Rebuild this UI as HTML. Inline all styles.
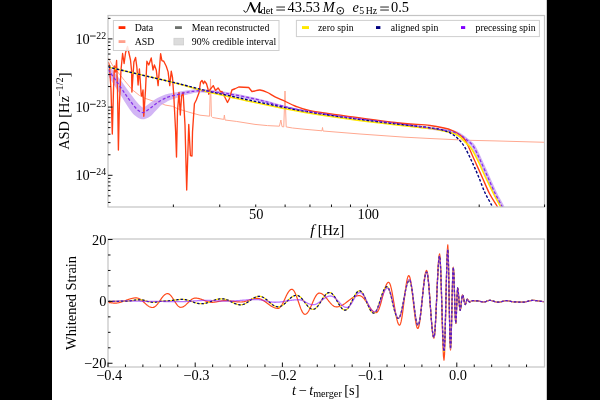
<!DOCTYPE html>
<html><head><meta charset="utf-8"><style>
html,body{margin:0;padding:0;background:#000;width:600px;height:400px;overflow:hidden}
svg{display:block;will-change:transform}
</style></head><body>
<svg width="600" height="400" viewBox="0 0 600 400"><rect x="0" y="0" width="600" height="400" fill="#fff"/>
<defs><clipPath id="cu"><rect x="108.0" y="15.5" width="436.5" height="191.5"/></clipPath><clipPath id="cl"><rect x="108.0" y="239.0" width="436.5" height="128.0"/></clipPath></defs>
<polyline clip-path="url(#cu)" points="108.3,58 113,66 118.5,73 124.5,80.5 132,89.5 139.5,95.5 145,98.3 153.75,101.3 160,102.6 165,105 172.5,106.3 177.5,108.7 190,112.5 200,115.2 209.6,116.2 210.5,79 211.4,116.3 212.5,117.5 223.75,119.4 224.4,115 225,120 236.25,121.4 255,124.4 267.5,125.6 279.4,126.2 280.9,120 282,126.6 283.75,126.9 285,91 286.2,126.9 292.5,128 305,129.3 322,130.8 322.5,127.5 323,131 360,134 405,137.2 430,138.5 469,140.3 495,140.9 545,142.3" fill="none" stroke="#ffa890" stroke-width="1.0" stroke-linejoin="round"/>
<path clip-path="url(#cu)" d="M110.84,67.46 C112.4,69.49 117.19,75.65 120.15,79.62 C123.12,83.6 126.44,88.35 128.63,91.32 C130.82,94.29 131.78,95.5 133.3,97.45 C134.82,99.39 136.38,101.42 137.76,102.97 C139.14,104.52 140.71,105.97 141.61,106.74 C142.51,107.5 142.75,107.44 143.17,107.54 C143.59,107.64 143.33,107.85 144.13,107.34 C144.93,106.83 146.55,105.54 147.99,104.47 C149.44,103.4 151.15,102.02 152.8,100.9 C154.45,99.79 156.12,98.73 157.9,97.8 C159.68,96.86 161.62,96.02 163.48,95.3 C165.34,94.58 166.83,94 169.05,93.48 C171.28,92.96 174.54,92.6 176.83,92.18 C179.12,91.76 180.65,91.34 182.8,90.96 C184.94,90.59 186.82,90.25 189.7,89.93 C192.58,89.6 194.14,88.71 200.07,89 C205.99,89.29 216.04,90.18 225.25,91.66 C234.46,93.13 246.15,95.71 255.33,97.84 C264.51,99.96 271.99,102.39 280.31,104.4 C288.62,106.42 294.4,108 305.21,109.92 C316.02,111.84 330.17,113.9 345.16,115.91 C360.15,117.93 380.99,120.16 395.16,122.01 C409.32,123.86 421.83,125.83 430.17,127.01 C438.51,128.19 441.11,128.47 445.22,129.1 C449.33,129.74 452.13,130.07 454.84,130.83 C457.56,131.59 459.28,132.36 461.49,133.67 C463.7,134.99 465.86,136.78 468.11,138.73 C470.36,140.68 472.61,141.73 475.01,145.35 C477.4,148.98 480,155.25 482.47,160.47 C484.94,165.69 487.37,171.28 489.82,176.68 C492.26,182.09 494.82,188.18 497.12,192.92 C499.43,197.65 502.02,201.72 503.66,205.11 C505.29,208.49 507.02,211.62 506.93,213.23 C506.83,214.84 504.24,215.83 503.07,214.77 C501.91,213.71 501.54,210.24 499.94,206.89 C498.34,203.54 495.77,199.45 493.48,194.68 C491.18,189.92 488.61,183.74 486.18,178.32 C483.76,172.89 481.33,167.28 478.93,162.13 C476.53,156.99 474,150.89 471.79,147.45 C469.59,144 467.7,143.29 465.69,141.47 C463.68,139.65 461.67,137.81 459.71,136.53 C457.75,135.24 456.44,134.58 453.96,133.77 C451.47,132.97 448.8,132.43 444.78,131.7 C440.76,130.97 438.15,130.61 429.83,129.39 C421.51,128.17 409.01,126.24 394.84,124.39 C380.68,122.54 359.85,120.31 344.84,118.29 C329.83,116.27 315.65,114.16 304.79,112.28 C293.93,110.4 288.05,108.92 279.69,107 C271.34,105.08 263.83,102.77 254.67,100.76 C245.51,98.75 233.87,96.3 224.75,94.94 C215.62,93.58 205.67,92.74 199.93,92.6 C194.19,92.45 192.99,93.6 190.3,94.07 C187.61,94.55 185.82,94.88 183.8,95.44 C181.78,95.99 180.31,96.71 178.17,97.42 C176.03,98.14 172.89,98.97 170.95,99.72 C169.01,100.47 167.99,101.08 166.52,101.9 C165.04,102.71 163.45,103.6 162.1,104.6 C160.75,105.6 159.66,106.68 158.4,107.9 C157.13,109.12 155.96,110.47 154.51,111.93 C153.05,113.39 151.78,115.44 149.67,116.66 C147.56,117.88 144.35,119.5 141.83,119.26 C139.32,119.03 136.61,116.9 134.59,115.26 C132.58,113.63 131.26,111.48 129.74,109.43 C128.22,107.38 126.89,105.15 125.5,102.95 C124.1,100.76 123.34,99.41 121.37,96.28 C119.39,93.15 116.35,88.3 113.65,84.18 C110.94,80.05 106.57,73.65 105.16,71.54 Z" fill="#c7a2f3" fill-opacity="0.8" stroke="none"/>
<polyline clip-path="url(#cu)" points="108.3,62 109.5,66 111,90 112.3,134 113.5,90 114.4,66 115.5,72 116.6,60.5 117.5,90 118.4,150 119.4,104 121,70 122.6,53.5 124.1,63.5 125.6,52.5 127.5,46.5 128.7,52 130.5,60 131.6,71 131.9,92 133.9,62 135.6,57.5 136.9,67.5 138.1,85 139.4,69 141.25,95 142,96 143,90 143.8,116.2 145.5,90 146.9,61.25 148.75,65 151.25,58 153,70 154.4,65 156.25,70 158.1,85.6 160.6,53.75 161.9,60.6 163.75,61.25 166.25,66.25 168.1,71.9 169.75,85.6 171.25,71.25 172.5,77.5 173.75,95 175.6,131 176.5,157 177.5,111 179,92.5 180.3,115 181.6,96 183.1,92.5 185,125 186.7,190 188.75,124.4 190.4,155.5 192,156 192.5,132 194.4,103.75 196.3,100 199,92.75 200.5,82.25 202,80.4 203.5,83.75 204.6,81.1 206.5,83.75 208,89 208.75,94.25 209.9,89.75 213.25,85.6 215.5,90.5 218.1,87.9 220.75,92 222,91.5 225.25,98 227.5,102.5 229.4,98.75 231.9,90 235,88.75 238.75,87 248.75,87.5 251.9,91.5 255,91" fill="none" stroke="#ff3d14" stroke-width="1.35" stroke-linejoin="round"/>
<path clip-path="url(#cu)" d="M255,91 C255.83,90.83 257.92,89.75 260,90 C262.08,90.25 265,91.35 267.5,92.5 C270,93.65 272.08,95.44 275,96.9 C277.92,98.36 281.67,99.73 285,101.25 C288.33,102.77 290.83,104.42 295,106 C299.17,107.58 301.67,109.07 310,110.7 C318.33,112.33 330.83,113.83 345,115.8 C359.17,117.77 380.83,120.88 395,122.5 C409.17,124.12 421.67,124.54 430,125.5 C438.33,126.46 441.46,127.48 445,128.25 C448.54,129.02 449.17,129.27 451.25,130.1 C453.33,130.93 455.42,131.89 457.5,133.25 C459.58,134.61 462.05,136.29 463.75,138.25 C465.45,140.21 465.82,141.16 467.7,145 C469.57,148.84 472.57,155.88 475,161.3 C477.43,166.72 479.87,172.08 482.3,177.5 C484.73,182.92 487.15,189.05 489.6,193.8 C492.05,198.55 495.1,202.63 497,206 C498.9,209.37 500.33,212.67 501,214" fill="none" stroke="#ff3d14" stroke-width="1.35"/>
<path clip-path="url(#cu)" d="M108,67 C111.67,67.87 122.17,70.35 130,72.2 C137.83,74.05 146.67,76.08 155,78.1 C163.33,80.12 171.67,82.1 180,84.3 C188.33,86.5 196.67,89.18 205,91.3 C213.33,93.42 221.67,95.12 230,97 C238.33,98.88 246.67,100.82 255,102.6 C263.33,104.38 271.67,106.07 280,107.7 C288.33,109.33 294.17,110.6 305,112.4 C315.83,114.2 330,116.43 345,118.5 C360,120.57 380.83,123.12 395,124.8 C409.17,126.48 421.67,127.53 430,128.6 C438.33,129.67 440.93,130.33 445,131.2 C449.07,132.07 451.8,132.77 454.4,133.8 C457,134.83 458.73,135.93 460.6,137.4 C462.47,138.87 463.87,140.83 465.6,142.6 C467.33,144.37 468.89,144.88 471,148 C473.11,151.12 475.82,156.38 478.25,161.3 C480.68,166.22 483.03,172.08 485.6,177.5 C488.18,182.92 491.27,189.05 493.7,193.8 C496.13,198.55 498.48,202.63 500.2,206 C501.92,209.37 503.37,212.67 504,214" fill="none" stroke="#ffe800" stroke-width="1.5"/>
<path clip-path="url(#cu)" d="M108,67 C111.67,67.87 122.17,70.35 130,72.2 C137.83,74.05 146.67,76.13 155,78.1 C163.33,80.07 171.67,81.95 180,84 C188.33,86.05 196.67,88.42 205,90.4 C213.33,92.38 221.67,94.07 230,95.9 C238.33,97.73 246.67,99.63 255,101.4 C263.33,103.17 271.67,104.85 280,106.5 C288.33,108.15 294.17,109.48 305,111.3 C315.83,113.12 330,115.32 345,117.4 C360,119.48 380.83,122.07 395,123.8 C409.17,125.53 421.67,126.64 430,127.8 C438.33,128.96 441.46,129.78 445,130.75 C448.54,131.72 449.17,132.35 451.25,133.6 C453.33,134.85 455.31,136.08 457.5,138.25 C459.69,140.42 462.02,142.76 464.4,146.6 C466.77,150.44 469.44,156.42 471.75,161.3 C474.06,166.18 476.08,170.75 478.25,175.9 C480.42,181.05 482.44,187.18 484.75,192.2 C487.06,197.22 490.23,202.37 492.1,206 C493.98,209.63 495.35,212.67 496,214" fill="none" stroke="#000080" stroke-width="1.4" stroke-dasharray="2.7,1.7"/>
<path clip-path="url(#cu)" d="M108,69.5 C109.48,71.57 114.07,77.88 116.9,81.9 C119.73,85.92 122.92,90.62 125,93.6 C127.08,96.58 127.94,97.8 129.4,99.8 C130.86,101.8 132.3,103.85 133.75,105.6 C135.2,107.35 136.64,109.13 138.1,110.3 C139.56,111.47 141.03,112.55 142.5,112.6 C143.97,112.65 145.44,111.47 146.9,110.6 C148.36,109.73 149.8,108.5 151.25,107.4 C152.7,106.3 154.14,105.07 155.6,104 C157.06,102.93 158.43,101.93 160,101 C161.57,100.07 163.33,99.17 165,98.4 C166.67,97.63 167.92,97.03 170,96.4 C172.08,95.77 175.28,95.17 177.5,94.6 C179.72,94.03 181.22,93.45 183.3,93 C185.38,92.55 187.22,92.27 190,91.9 C192.78,91.53 194.17,90.57 200,90.8 C205.83,91.03 215.83,91.93 225,93.3 C234.17,94.67 245.83,96.97 255,99 C264.17,101.03 271.67,103.52 280,105.5 C288.33,107.48 294.17,108.98 305,110.9 C315.83,112.82 330,114.95 345,117 C360,119.05 380.83,121.33 395,123.2 C409.17,125.07 421.67,127 430,128.2 C438.33,129.4 440.93,129.72 445,130.4 C449.07,131.08 451.8,131.52 454.4,132.3 C457,133.08 458.52,133.8 460.6,135.1 C462.68,136.4 464.77,138.22 466.9,140.1 C469.03,141.98 471.1,142.87 473.4,146.4 C475.7,149.93 478.27,156.12 480.7,161.3 C483.13,166.48 485.57,172.08 488,177.5 C490.43,182.92 493,189.05 495.3,193.8 C497.6,198.55 500.18,202.63 501.8,206 C503.42,209.37 504.47,212.67 505,214" fill="none" stroke="#7f22e8" stroke-width="1.3" stroke-dasharray="3,2" stroke-opacity="0.9"/>
<polyline clip-path="url(#cl)" points="108,302.5 108.5,302.51 109,302.53 109.5,302.57 110,302.61 110.5,302.67 111,302.73 111.5,302.8 112,302.87 112.5,302.93 113,302.99 113.5,303.03 114,303.07 114.5,303.09 115,303.1 115.51,303.09 116.01,303.07 116.52,303.03 117.02,302.98 117.53,302.92 118.04,302.84 118.54,302.75 119.05,302.65 119.55,302.53 120.06,302.41 120.57,302.27 121.07,302.12 121.58,301.96 122.08,301.8 122.59,301.63 123.1,301.45 123.6,301.27 124.11,301.08 124.61,300.89 125.12,300.69 125.62,300.5 126.13,300.31 126.64,300.11 127.14,299.92 127.65,299.73 128.15,299.55 128.66,299.37 129.17,299.2 129.67,299.04 130.18,298.88 130.68,298.73 131.19,298.59 131.7,298.47 132.2,298.35 132.71,298.25 133.21,298.16 133.72,298.08 134.23,298.02 134.73,297.97 135.24,297.93 135.74,297.91 136.25,297.9 136.76,297.92 137.27,297.99 137.77,298.11 138.28,298.27 138.79,298.47 139.3,298.71 139.8,298.99 140.31,299.31 140.82,299.65 141.33,300.03 141.84,300.44 142.34,300.86 142.85,301.31 143.36,301.76 143.87,302.23 144.38,302.7 144.88,303.17 145.39,303.64 145.9,304.09 146.41,304.54 146.91,304.96 147.42,305.37 147.93,305.75 148.44,306.09 148.95,306.41 149.45,306.69 149.96,306.93 150.47,307.13 150.98,307.29 151.48,307.41 151.99,307.48 152.5,307.5 153,307.46 153.5,307.35 154,307.16 154.5,306.9 155,306.57 155.5,306.17 156,305.71 156.5,305.2 157,304.64 157.5,304.03 158,303.38 158.5,302.7 159,301.99 159.5,301.28 160,300.55 160.5,299.82 161,299.11 161.5,298.4 162,297.72 162.5,297.08 163,296.46 163.5,295.9 164,295.39 164.5,294.93 165,294.53 165.5,294.2 166,293.94 166.5,293.75 167,293.64 167.5,293.6 168.01,293.65 168.52,293.8 169.03,294.05 169.55,294.38 170.06,294.81 170.57,295.32 171.08,295.91 171.59,296.56 172.1,297.27 172.62,298.02 173.13,298.81 173.64,299.62 174.15,300.45 174.66,301.28 175.17,302.09 175.68,302.88 176.2,303.63 176.71,304.34 177.22,304.99 177.73,305.58 178.24,306.09 178.75,306.52 179.27,306.85 179.78,307.1 180.29,307.25 180.8,307.3 181.3,307.27 181.8,307.19 182.3,307.06 182.8,306.87 183.3,306.64 183.8,306.36 184.3,306.04 184.8,305.68 185.3,305.28 185.8,304.85 186.3,304.4 186.8,303.93 187.3,303.44 187.8,302.95 188.3,302.45 188.8,301.96 189.3,301.47 189.8,301 190.3,300.55 190.8,300.12 191.3,299.72 191.8,299.36 192.3,299.04 192.8,298.76 193.3,298.53 193.8,298.34 194.3,298.21 194.8,298.13 195.3,298.1 195.81,298.11 196.31,298.14 196.82,298.19 197.32,298.25 197.83,298.33 198.34,298.43 198.84,298.55 199.35,298.68 199.85,298.82 200.36,298.98 200.87,299.15 201.37,299.33 201.88,299.51 202.38,299.7 202.89,299.9 203.4,300.1 203.9,300.3 204.41,300.5 204.92,300.7 205.42,300.89 205.93,301.07 206.43,301.25 206.94,301.42 207.45,301.58 207.95,301.72 208.46,301.85 208.96,301.97 209.47,302.07 209.98,302.15 210.48,302.21 210.99,302.26 211.49,302.29 212,302.3 212.5,302.29 213,302.28 213.5,302.24 214,302.2 214.5,302.15 215,302.09 215.5,302.01 216,301.93 216.5,301.85 217,301.75 217.5,301.65 218,301.55 218.5,301.45 219,301.35 219.5,301.25 220,301.15 220.5,301.05 221,300.97 221.5,300.89 222,300.81 222.5,300.75 223,300.7 223.5,300.66 224,300.62 224.5,300.61 225,300.6 225.5,300.6 226,300.61 226.5,300.63 227,300.65 227.5,300.68 228,300.72 228.5,300.76 229,300.81 229.5,300.86 230,300.91 230.5,300.97 231,301.03 231.5,301.1 232,301.16 232.5,301.23 233,301.3 233.5,301.37 234,301.44 234.5,301.5 235,301.57 235.5,301.63 236,301.69 236.5,301.74 237,301.79 237.5,301.84 238,301.88 238.5,301.92 239,301.95 239.5,301.97 240,301.99 240.5,302 241,302 241.51,301.99 242.01,301.96 242.52,301.92 243.03,301.85 243.53,301.77 244.04,301.67 244.55,301.55 245.05,301.42 245.56,301.28 246.06,301.13 246.57,300.96 247.08,300.79 247.58,300.61 248.09,300.43 248.6,300.24 249.1,300.06 249.61,299.87 250.12,299.69 250.62,299.51 251.13,299.34 251.64,299.17 252.14,299.02 252.65,298.88 253.15,298.75 253.66,298.63 254.17,298.53 254.67,298.45 255.18,298.38 255.69,298.34 256.19,298.31 256.7,298.3 257.21,298.31 257.71,298.36 258.22,298.43 258.73,298.52 259.24,298.65 259.74,298.8 260.25,298.98 260.76,299.18 261.26,299.4 261.77,299.65 262.28,299.92 262.79,300.2 263.29,300.51 263.8,300.83 264.31,301.16 264.81,301.51 265.32,301.86 265.83,302.23 266.34,302.6 266.84,302.97 267.35,303.35 267.86,303.73 268.36,304.1 268.87,304.47 269.38,304.84 269.89,305.19 270.39,305.54 270.9,305.88 271.41,306.19 271.91,306.5 272.42,306.78 272.93,307.05 273.44,307.3 273.94,307.52 274.45,307.72 274.96,307.9 275.46,308.05 275.97,308.18 276.48,308.27 276.99,308.34 277.49,308.39 278,308.4 278.51,308.34 279.02,308.14 279.53,307.82 280.04,307.38 280.56,306.83 281.07,306.17 281.58,305.4 282.09,304.55 282.6,303.62 283.11,302.63 283.62,301.59 284.13,300.51 284.64,299.41 285.16,298.29 285.67,297.19 286.18,296.11 286.69,295.07 287.2,294.08 287.71,293.15 288.22,292.3 288.73,291.53 289.24,290.87 289.76,290.32 290.27,289.88 290.78,289.56 291.29,289.36 291.8,289.3 292.31,289.39 292.82,289.66 293.32,290.11 293.83,290.73 294.34,291.51 294.85,292.44 295.35,293.51 295.86,294.7 296.37,295.99 296.88,297.37 297.38,298.81 297.89,300.29 298.4,301.8 298.91,303.31 299.42,304.79 299.92,306.23 300.43,307.61 300.94,308.9 301.45,310.09 301.95,311.16 302.46,312.09 302.97,312.87 303.48,313.49 303.98,313.94 304.49,314.21 305,314.3 305.51,314.23 306.02,314.03 306.53,313.71 307.04,313.25 307.55,312.68 308.06,311.99 308.57,311.2 309.09,310.31 309.6,309.34 310.11,308.3 310.62,307.2 311.13,306.06 311.64,304.89 312.15,303.7 312.66,302.51 313.17,301.34 313.68,300.2 314.19,299.1 314.7,298.06 315.21,297.09 315.73,296.2 316.24,295.41 316.75,294.72 317.26,294.15 317.77,293.69 318.28,293.37 318.79,293.17 319.3,293.1 319.81,293.13 320.31,293.22 320.82,293.36 321.32,293.57 321.83,293.82 322.34,294.13 322.84,294.49 323.35,294.9 323.85,295.35 324.36,295.84 324.86,296.37 325.37,296.92 325.88,297.51 326.38,298.11 326.89,298.73 327.39,299.36 327.9,300 328.41,300.64 328.91,301.27 329.42,301.89 329.92,302.49 330.43,303.08 330.94,303.63 331.44,304.16 331.95,304.65 332.45,305.1 332.96,305.51 333.46,305.87 333.97,306.18 334.48,306.43 334.98,306.64 335.49,306.78 335.99,306.87 336.5,306.9 337,306.89 337.51,306.85 338.01,306.78 338.52,306.68 339.02,306.56 339.53,306.41 340.03,306.24 340.54,306.04 341.04,305.82 341.54,305.58 342.05,305.31 342.55,305.03 343.06,304.73 343.56,304.41 344.07,304.07 344.57,303.73 345.08,303.37 345.58,303 346.08,302.62 346.59,302.23 347.09,301.84 347.6,301.45 348.1,301.05 348.61,300.66 349.11,300.27 349.62,299.88 350.12,299.5 350.62,299.13 351.13,298.77 351.63,298.43 352.14,298.09 352.64,297.77 353.15,297.47 353.65,297.19 354.16,296.92 354.66,296.68 355.16,296.46 355.67,296.26 356.17,296.09 356.68,295.94 357.18,295.82 357.69,295.72 358.19,295.65 358.7,295.61 359.2,295.6 359.7,295.64 360.2,295.74 360.7,295.92 361.2,296.17 361.7,296.49 362.2,296.87 362.7,297.32 363.2,297.82 363.7,298.37 364.2,298.98 364.7,299.63 365.2,300.31 365.7,301.03 366.2,301.77 366.7,302.54 367.2,303.32 367.7,304.1 368.2,304.88 368.7,305.66 369.2,306.43 369.7,307.17 370.2,307.89 370.7,308.57 371.2,309.22 371.7,309.83 372.2,310.38 372.7,310.88 373.2,311.33 373.7,311.71 374.2,312.03 374.7,312.28 375.2,312.46 375.7,312.56 376.2,312.6 376.72,312.47 377.23,312.08 377.75,311.45 378.27,310.57 378.78,309.47 379.3,308.16 379.82,306.67 380.33,305.03 380.85,303.25 381.37,301.37 381.88,299.43 382.4,297.45 382.92,295.47 383.43,293.53 383.95,291.65 384.47,289.88 384.98,288.23 385.5,286.74 386.02,285.43 386.53,284.33 387.05,283.45 387.57,282.82 388.08,282.43 388.6,282.3 389.12,282.54 389.64,283.25 390.16,284.42 390.68,286.03 391.2,288.03 391.71,290.38 392.23,293.02 392.75,295.91 393.27,298.98 393.79,302.15 394.31,305.35 394.83,308.52 395.35,311.59 395.87,314.47 396.39,317.12 396.9,319.47 397.42,321.47 397.94,323.08 398.46,324.25 398.98,324.96 399.5,325.2 400.02,324.82 400.53,323.7 401.05,321.88 401.57,319.4 402.08,316.34 402.6,312.8 403.12,308.88 403.63,304.71 404.15,300.4 404.67,296.09 405.18,291.92 405.7,288 406.22,284.46 406.73,281.4 407.25,278.92 407.77,277.1 408.28,275.98 408.8,275.6 409.3,276 409.8,277.2 410.3,279.14 410.8,281.79 411.3,285.05 411.8,288.82 412.3,293 412.8,297.46 413.3,302.05 413.8,306.64 414.3,311.1 414.8,315.27 415.3,319.05 415.8,322.31 416.3,324.96 416.8,326.9 417.3,328.1 417.8,328.5 418.32,328.01 418.84,326.54 419.35,324.16 419.87,320.93 420.39,316.98 420.91,312.43 421.42,307.44 421.94,302.18 422.46,296.82 422.98,291.56 423.49,286.57 424.01,282.02 424.53,278.07 425.05,274.84 425.56,272.46 426.08,270.99 426.6,270.5 427.12,271.35 427.64,273.85 428.16,277.89 428.69,283.24 429.21,289.66 429.73,296.82 430.25,304.35 430.77,311.88 431.29,319.04 431.81,325.46 432.34,330.81 432.86,334.85 433.38,337.35 433.9,338.2 434.42,336.49 434.94,331.51 435.45,323.65 435.97,313.56 436.49,302.05 437.01,290.05 437.53,278.54 438.05,268.45 438.56,260.59 439.08,255.61 439.6,253.9 440.15,257.95 440.7,269.47 441.25,286.71 441.8,307.05 442.35,327.39 442.9,344.63 443.45,356.15 444,360.2 444.54,354.49 445.09,338.48 445.63,315.34 446.17,289.66 446.71,266.52 447.26,250.51 447.8,244.8 448.34,254.85 448.88,281.15 449.42,313.65 449.96,339.95 450.5,350 451.06,342.1 451.62,321.43 452.18,295.87 452.74,275.2 453.3,267.3 453.8,272.66 454.3,286.68 454.8,304.02 455.3,318.04 455.8,323.4 456.4,314.55 457,296.85 457.6,288 458.12,290.13 458.64,295.7 459.16,302.6 459.68,308.17 460.2,310.3 460.77,308.06 461.35,302.65 461.93,297.24 462.5,295 463.06,295.91 463.62,298.28 464.18,301.22 464.74,303.59 465.3,304.5 465.8,303.72 466.3,301.85 466.8,299.98 467.3,299.2 467.85,299.61 468.4,300.6 468.95,301.59 469.5,302 470,301.91 470.5,301.68 471,301.35 471.5,301.03 472,300.79 472.5,300.7 473,300.71 473.5,300.72 474,300.75 474.5,300.78 475,300.82 475.5,300.85 476,300.88 476.5,300.89 477,300.9 477.52,300.92 478.03,300.96 478.55,301.04 479.06,301.14 479.58,301.25 480.09,301.38 480.61,301.52 481.12,301.65 481.64,301.76 482.15,301.86 482.67,301.94 483.18,301.98 483.7,302 484.2,301.97 484.7,301.89 485.2,301.77 485.7,301.6 486.2,301.41 486.7,301.2 487.2,300.99 487.7,300.8 488.2,300.63 488.7,300.51 489.2,300.43 489.7,300.4 490.21,300.42 490.71,300.46 491.22,300.53 491.72,300.63 492.23,300.76 492.74,300.9 493.24,301.05 493.75,301.22 494.25,301.38 494.76,301.55 495.26,301.7 495.77,301.84 496.28,301.97 496.78,302.07 497.29,302.14 497.79,302.18 498.3,302.2 498.8,302.19 499.3,302.14 499.8,302.07 500.3,301.98 500.8,301.87 501.3,301.74 501.8,301.6 502.3,301.45 502.8,301.3 503.3,301.16 503.8,301.03 504.3,300.92 504.8,300.83 505.3,300.76 505.8,300.71 506.3,300.7 506.81,300.71 507.33,300.75 507.84,300.81 508.35,300.88 508.87,300.97 509.38,301.08 509.89,301.19 510.41,301.31 510.92,301.42 511.43,301.52 511.95,301.62 512.46,301.69 512.97,301.75 513.49,301.79 514,301.8 514.52,301.8 515.04,301.82 515.56,301.83 516.08,301.86 516.59,301.89 517.11,301.92 517.63,301.96 518.15,302 518.67,302.04 519.19,302.08 519.71,302.11 520.22,302.14 520.74,302.17 521.26,302.18 521.78,302.2 522.3,302.2 522.81,302.19 523.32,302.16 523.83,302.11 524.34,302.04 524.85,301.96 525.36,301.86 525.87,301.75 526.38,301.63 526.89,301.5 527.4,301.37 527.9,301.23 528.41,301.1 528.92,300.97 529.43,300.85 529.94,300.74 530.45,300.64 530.96,300.56 531.47,300.49 531.98,300.44 532.49,300.41 533,300.4 533.5,300.41 534,300.42 534.5,300.45 535,300.49 535.5,300.53 536,300.59 536.5,300.65 537,300.72 537.5,300.8 538,300.88 538.5,300.96 539,301.04 539.5,301.12 540,301.2 540.5,301.28 541,301.35 541.5,301.41 542,301.47 542.5,301.51 543,301.55 543.5,301.58 544,301.59 544.5,301.6" fill="none" stroke="#ff4a1c" stroke-width="1.2" stroke-linejoin="round"/>
<polyline clip-path="url(#cl)" points="108,301.4 108.5,301.4 109,301.4 109.5,301.4 110,301.39 110.5,301.39 111,301.39 111.5,301.38 112,301.37 112.5,301.37 113,301.36 113.5,301.35 114,301.34 114.5,301.34 115,301.33 115.5,301.32 116,301.31 116.5,301.3 117,301.29 117.5,301.28 118,301.27 118.5,301.26 119,301.26 119.5,301.25 120,301.24 120.5,301.23 121,301.23 121.5,301.22 122,301.21 122.5,301.21 123,301.21 123.5,301.2 124,301.2 124.5,301.2 125,301.2 125.5,301.2 126,301.18 126.5,301.16 127,301.14 127.5,301.1 128,301.06 128.5,301.01 129,300.96 129.5,300.9 130,300.84 130.5,300.77 131,300.7 131.5,300.63 132,300.55 132.5,300.48 133,300.4 133.5,300.32 134,300.25 134.5,300.18 135,300.11 135.5,300.05 136,299.99 136.5,299.94 137,299.89 137.5,299.85 138,299.81 138.5,299.79 139,299.77 139.5,299.75 140,299.75 140.5,299.76 141,299.79 141.5,299.84 142,299.9 142.5,299.99 143,300.09 143.5,300.2 144,300.33 144.5,300.47 145,300.61 145.5,300.77 146,300.92 146.5,301.08 147,301.23 147.5,301.39 148,301.53 148.5,301.67 149,301.8 149.5,301.91 150,302.01 150.5,302.1 151,302.16 151.5,302.21 152,302.24 152.5,302.25 153,302.25 153.5,302.23 154,302.21 154.5,302.17 155,302.13 155.5,302.08 156,302.02 156.5,301.96 157,301.89 157.5,301.82 158,301.74 158.5,301.66 159,301.59 159.5,301.51 160,301.43 160.5,301.36 161,301.29 161.5,301.23 162,301.17 162.5,301.12 163,301.08 163.5,301.04 164,301.02 164.5,301 165,301 165.5,301 166,300.99 166.5,300.97 167,300.95 167.5,300.92 168,300.89 168.5,300.85 169,300.8 169.5,300.75 170,300.7 170.5,300.64 171,300.58 171.5,300.51 172,300.45 172.5,300.38 173,300.31 173.5,300.24 174,300.16 174.5,300.09 175,300.02 175.5,299.95 176,299.89 176.5,299.82 177,299.76 177.5,299.7 178,299.65 178.5,299.6 179,299.55 179.5,299.51 180,299.48 180.5,299.45 181,299.43 181.5,299.41 182,299.4 182.5,299.4 183.01,299.41 183.51,299.43 184.02,299.47 184.53,299.52 185.03,299.59 185.54,299.68 186.05,299.77 186.55,299.88 187.06,300 187.57,300.14 188.07,300.28 188.58,300.43 189.09,300.6 189.59,300.76 190.1,300.94 190.61,301.12 191.11,301.3 191.62,301.48 192.13,301.67 192.64,301.85 193.14,302.03 193.65,302.21 194.16,302.39 194.66,302.55 195.17,302.72 195.68,302.87 196.18,303.01 196.69,303.15 197.2,303.27 197.7,303.38 198.21,303.47 198.72,303.56 199.22,303.63 199.73,303.68 200.24,303.72 200.74,303.74 201.25,303.75 201.75,303.74 202.25,303.72 202.75,303.68 203.25,303.63 203.76,303.57 204.26,303.49 204.76,303.4 205.26,303.29 205.76,303.18 206.26,303.05 206.76,302.91 207.26,302.77 207.77,302.61 208.27,302.44 208.77,302.27 209.27,302.1 209.77,301.91 210.27,301.73 210.77,301.54 211.27,301.35 211.78,301.15 212.28,300.96 212.78,300.77 213.28,300.59 213.78,300.4 214.28,300.23 214.78,300.06 215.28,299.89 215.79,299.73 216.29,299.59 216.79,299.45 217.29,299.32 217.79,299.21 218.29,299.1 218.79,299.01 219.29,298.93 219.8,298.87 220.3,298.82 220.8,298.78 221.3,298.76 221.8,298.75 222.31,298.76 222.82,298.79 223.32,298.85 223.83,298.92 224.34,299.02 224.85,299.13 225.36,299.27 225.86,299.42 226.37,299.59 226.88,299.78 227.39,299.98 227.9,300.19 228.41,300.41 228.91,300.65 229.42,300.89 229.93,301.14 230.44,301.39 230.95,301.65 231.45,301.9 231.96,302.16 232.47,302.41 232.98,302.66 233.49,302.9 233.99,303.14 234.5,303.36 235.01,303.57 235.52,303.77 236.03,303.96 236.54,304.13 237.04,304.28 237.55,304.42 238.06,304.53 238.57,304.63 239.08,304.7 239.58,304.76 240.09,304.79 240.6,304.8 241.11,304.78 241.61,304.74 242.12,304.66 242.62,304.56 243.13,304.42 243.63,304.26 244.14,304.07 244.64,303.86 245.15,303.62 245.65,303.36 246.16,303.08 246.66,302.78 247.17,302.46 247.68,302.13 248.18,301.79 248.69,301.45 249.19,301.09 249.7,300.73 250.2,300.37 250.71,300.01 251.21,299.65 251.72,299.31 252.22,298.97 252.73,298.64 253.24,298.32 253.74,298.02 254.25,297.74 254.75,297.48 255.26,297.24 255.76,297.03 256.27,296.84 256.77,296.68 257.28,296.54 257.78,296.44 258.29,296.36 258.79,296.32 259.3,296.3 259.81,296.32 260.32,296.38 260.83,296.47 261.34,296.6 261.85,296.77 262.36,296.97 262.88,297.2 263.39,297.47 263.9,297.76 264.41,298.08 264.92,298.43 265.43,298.8 265.94,299.19 266.45,299.59 266.96,300.01 267.47,300.44 267.98,300.88 268.49,301.33 269.01,301.77 269.52,302.22 270.03,302.66 270.54,303.09 271.05,303.51 271.56,303.91 272.07,304.3 272.58,304.67 273.09,305.02 273.6,305.34 274.11,305.63 274.62,305.9 275.14,306.13 275.65,306.33 276.16,306.5 276.67,306.63 277.18,306.72 277.69,306.78 278.2,306.8 278.71,306.78 279.22,306.71 279.72,306.6 280.23,306.45 280.74,306.26 281.25,306.03 281.76,305.76 282.27,305.45 282.77,305.12 283.28,304.75 283.79,304.35 284.3,303.93 284.81,303.48 285.32,303.02 285.82,302.54 286.33,302.05 286.84,301.55 287.35,301.05 287.86,300.55 288.37,300.05 288.88,299.56 289.38,299.08 289.89,298.62 290.4,298.18 290.91,297.75 291.42,297.35 291.93,296.98 292.43,296.65 292.94,296.34 293.45,296.07 293.96,295.84 294.47,295.65 294.98,295.5 295.48,295.39 295.99,295.32 296.5,295.3 297,295.33 297.5,295.43 298,295.58 298.5,295.8 299,296.08 299.5,296.41 300,296.8 300.5,297.23 301,297.72 301.5,298.24 302,298.8 302.5,299.39 303,300.01 303.5,300.65 304,301.3 304.5,301.97 305,302.63 305.5,303.3 306,303.95 306.5,304.59 307,305.21 307.5,305.8 308,306.36 308.5,306.88 309,307.37 309.5,307.8 310,308.19 310.5,308.52 311,308.8 311.5,309.02 312,309.17 312.5,309.27 313,309.3 313.5,309.26 314,309.15 314.5,308.96 315,308.7 315.5,308.37 316,307.97 316.5,307.5 317,306.98 317.5,306.4 318,305.77 318.5,305.1 319,304.39 319.5,303.65 320,302.88 320.5,302.1 321,301.3 321.5,300.5 322,299.7 322.5,298.92 323,298.15 323.5,297.41 324,296.7 324.5,296.03 325,295.4 325.5,294.82 326,294.3 326.5,293.83 327,293.43 327.5,293.1 328,292.84 328.5,292.65 329,292.54 329.5,292.5 330,292.55 330.5,292.68 331,292.9 331.5,293.21 332,293.61 332.5,294.08 333,294.62 333.5,295.24 334,295.91 334.5,296.65 335,297.42 335.5,298.24 336,299.09 336.5,299.97 337,300.85 337.5,301.75 338,302.63 338.5,303.51 339,304.36 339.5,305.18 340,305.95 340.5,306.69 341,307.36 341.5,307.98 342,308.52 342.5,308.99 343,309.39 343.5,309.7 344,309.92 344.5,310.05 345,310.1 345.5,310.04 346.01,309.87 346.51,309.59 347.01,309.21 347.52,308.72 348.02,308.13 348.52,307.46 349.03,306.7 349.53,305.87 350.03,304.97 350.54,304.02 351.04,303.03 351.54,302.01 352.05,300.97 352.55,299.93 353.06,298.89 353.56,297.87 354.06,296.88 354.57,295.93 355.07,295.03 355.57,294.2 356.08,293.44 356.58,292.77 357.08,292.18 357.59,291.69 358.09,291.31 358.59,291.03 359.1,290.86 359.6,290.8 360.11,290.87 360.61,291.08 361.12,291.43 361.63,291.9 362.14,292.51 362.64,293.23 363.15,294.07 363.66,295 364.16,296.02 364.67,297.11 365.18,298.27 365.69,299.47 366.19,300.7 366.7,301.95 367.21,303.2 367.71,304.43 368.22,305.63 368.73,306.79 369.24,307.88 369.74,308.9 370.25,309.83 370.76,310.67 371.26,311.39 371.77,312 372.28,312.47 372.79,312.82 373.29,313.03 373.8,313.1 374.3,313 374.81,312.72 375.31,312.24 375.82,311.59 376.32,310.76 376.82,309.78 377.33,308.65 377.83,307.4 378.33,306.03 378.84,304.58 379.34,303.06 379.85,301.49 380.35,299.9 380.85,298.31 381.36,296.74 381.86,295.22 382.37,293.77 382.87,292.4 383.37,291.15 383.88,290.02 384.38,289.04 384.88,288.21 385.39,287.56 385.89,287.08 386.4,286.8 386.9,286.7 387.42,286.86 387.94,287.34 388.45,288.13 388.97,289.22 389.49,290.57 390.01,292.17 390.53,293.98 391.05,295.97 391.56,298.08 392.08,300.29 392.6,302.55 393.12,304.81 393.64,307.02 394.15,309.13 394.67,311.12 395.19,312.93 395.71,314.53 396.23,315.88 396.75,316.97 397.26,317.76 397.78,318.24 398.3,318.4 398.8,318.21 399.31,317.63 399.81,316.67 400.32,315.37 400.82,313.73 401.33,311.81 401.83,309.63 402.34,307.23 402.84,304.68 403.35,302.02 403.85,299.3 404.35,296.58 404.86,293.92 405.36,291.37 405.87,288.97 406.37,286.79 406.88,284.87 407.38,283.23 407.89,281.93 408.39,280.97 408.9,280.39 409.4,280.2 409.91,280.58 410.41,281.72 410.92,283.57 411.42,286.07 411.93,289.14 412.44,292.67 412.94,296.54 413.45,300.62 413.95,304.78 414.46,308.86 414.96,312.73 415.47,316.26 415.98,319.33 416.48,321.83 416.99,323.68 417.49,324.82 418,325.2 418.51,324.75 419.01,323.41 419.52,321.22 420.02,318.27 420.53,314.65 421.04,310.48 421.54,305.92 422.05,301.1 422.55,296.2 423.06,291.38 423.56,286.82 424.07,282.65 424.58,279.03 425.08,276.08 425.59,273.89 426.09,272.55 426.6,272.1 427.12,272.92 427.64,275.33 428.16,279.22 428.69,284.39 429.21,290.58 429.73,297.48 430.25,304.75 430.77,312.02 431.29,318.92 431.81,325.11 432.34,330.28 432.86,334.17 433.38,336.58 433.9,337.4 434.42,335.75 434.94,330.93 435.45,323.34 435.97,313.58 436.49,302.45 437.01,290.85 437.53,279.72 438.05,269.96 438.56,262.37 439.08,257.55 439.6,255.9 440.15,259.54 440.7,269.9 441.25,285.41 441.8,303.7 442.35,321.99 442.9,337.5 443.45,347.86 444,351.5 444.54,346.44 445.09,332.28 445.63,311.81 446.17,289.09 446.71,268.62 447.26,254.46 447.8,249.4 448.34,258.89 448.88,283.74 449.42,314.46 449.96,339.31 450.5,348.8 451.06,341.02 451.62,320.64 452.18,295.46 452.74,275.08 453.3,267.3 453.8,272.66 454.3,286.68 454.8,304.02 455.3,318.04 455.8,323.4 456.4,314.55 457,296.85 457.6,288 458.12,290.13 458.64,295.7 459.16,302.6 459.68,308.17 460.2,310.3 460.77,308.06 461.35,302.65 461.93,297.24 462.5,295 463.06,295.91 463.62,298.28 464.18,301.22 464.74,303.59 465.3,304.5 465.8,303.72 466.3,301.85 466.8,299.98 467.3,299.2 467.85,299.61 468.4,300.6 468.95,301.59 469.5,302 470,301.91 470.5,301.68 471,301.35 471.5,301.03 472,300.79 472.5,300.7 473,300.71 473.5,300.72 474,300.75 474.5,300.78 475,300.82 475.5,300.85 476,300.88 476.5,300.89 477,300.9 477.52,300.92 478.03,300.96 478.55,301.04 479.06,301.14 479.58,301.25 480.09,301.38 480.61,301.52 481.12,301.65 481.64,301.76 482.15,301.86 482.67,301.94 483.18,301.98 483.7,302 484.2,301.97 484.7,301.89 485.2,301.77 485.7,301.6 486.2,301.41 486.7,301.2 487.2,300.99 487.7,300.8 488.2,300.63 488.7,300.51 489.2,300.43 489.7,300.4 490.21,300.42 490.71,300.46 491.22,300.53 491.72,300.63 492.23,300.76 492.74,300.9 493.24,301.05 493.75,301.22 494.25,301.38 494.76,301.55 495.26,301.7 495.77,301.84 496.28,301.97 496.78,302.07 497.29,302.14 497.79,302.18 498.3,302.2 498.8,302.19 499.3,302.14 499.8,302.07 500.3,301.98 500.8,301.87 501.3,301.74 501.8,301.6 502.3,301.45 502.8,301.3 503.3,301.16 503.8,301.03 504.3,300.92 504.8,300.83 505.3,300.76 505.8,300.71 506.3,300.7 506.81,300.71 507.33,300.75 507.84,300.81 508.35,300.88 508.87,300.97 509.38,301.08 509.89,301.19 510.41,301.31 510.92,301.42 511.43,301.52 511.95,301.62 512.46,301.69 512.97,301.75 513.49,301.79 514,301.8 514.52,301.8 515.04,301.82 515.56,301.83 516.08,301.86 516.59,301.89 517.11,301.92 517.63,301.96 518.15,302 518.67,302.04 519.19,302.08 519.71,302.11 520.22,302.14 520.74,302.17 521.26,302.18 521.78,302.2 522.3,302.2 522.81,302.19 523.32,302.16 523.83,302.11 524.34,302.04 524.85,301.96 525.36,301.86 525.87,301.75 526.38,301.63 526.89,301.5 527.4,301.37 527.9,301.23 528.41,301.1 528.92,300.97 529.43,300.85 529.94,300.74 530.45,300.64 530.96,300.56 531.47,300.49 531.98,300.44 532.49,300.41 533,300.4 533.5,300.41 534,300.42 534.5,300.45 535,300.49 535.5,300.53 536,300.59 536.5,300.65 537,300.72 537.5,300.8 538,300.88 538.5,300.96 539,301.04 539.5,301.12 540,301.2 540.5,301.28 541,301.35 541.5,301.41 542,301.47 542.5,301.51 543,301.55 543.5,301.58 544,301.59 544.5,301.6" fill="none" stroke="#ffe800" stroke-width="1.25" stroke-linejoin="round"/>
<polyline clip-path="url(#cl)" points="108,301.4 108.5,301.4 109,301.4 109.5,301.4 110,301.39 110.5,301.39 111,301.39 111.5,301.38 112,301.37 112.5,301.37 113,301.36 113.5,301.35 114,301.34 114.5,301.34 115,301.33 115.5,301.32 116,301.31 116.5,301.3 117,301.29 117.5,301.28 118,301.27 118.5,301.26 119,301.26 119.5,301.25 120,301.24 120.5,301.23 121,301.23 121.5,301.22 122,301.21 122.5,301.21 123,301.21 123.5,301.2 124,301.2 124.5,301.2 125,301.2 125.5,301.2 126,301.18 126.5,301.16 127,301.14 127.5,301.1 128,301.06 128.5,301.01 129,300.96 129.5,300.9 130,300.84 130.5,300.77 131,300.7 131.5,300.63 132,300.55 132.5,300.48 133,300.4 133.5,300.32 134,300.25 134.5,300.18 135,300.11 135.5,300.05 136,299.99 136.5,299.94 137,299.89 137.5,299.85 138,299.81 138.5,299.79 139,299.77 139.5,299.75 140,299.75 140.5,299.76 141,299.79 141.5,299.84 142,299.9 142.5,299.99 143,300.09 143.5,300.2 144,300.33 144.5,300.47 145,300.61 145.5,300.77 146,300.92 146.5,301.08 147,301.23 147.5,301.39 148,301.53 148.5,301.67 149,301.8 149.5,301.91 150,302.01 150.5,302.1 151,302.16 151.5,302.21 152,302.24 152.5,302.25 153,302.25 153.5,302.23 154,302.21 154.5,302.17 155,302.13 155.5,302.08 156,302.02 156.5,301.96 157,301.89 157.5,301.82 158,301.74 158.5,301.66 159,301.59 159.5,301.51 160,301.43 160.5,301.36 161,301.29 161.5,301.23 162,301.17 162.5,301.12 163,301.08 163.5,301.04 164,301.02 164.5,301 165,301 165.5,301 166,300.99 166.5,300.97 167,300.95 167.5,300.92 168,300.89 168.5,300.85 169,300.8 169.5,300.75 170,300.7 170.5,300.64 171,300.58 171.5,300.51 172,300.45 172.5,300.38 173,300.31 173.5,300.24 174,300.16 174.5,300.09 175,300.02 175.5,299.95 176,299.89 176.5,299.82 177,299.76 177.5,299.7 178,299.65 178.5,299.6 179,299.55 179.5,299.51 180,299.48 180.5,299.45 181,299.43 181.5,299.41 182,299.4 182.5,299.4 183.01,299.41 183.51,299.43 184.02,299.47 184.53,299.52 185.03,299.59 185.54,299.68 186.05,299.77 186.55,299.88 187.06,300 187.57,300.14 188.07,300.28 188.58,300.43 189.09,300.6 189.59,300.76 190.1,300.94 190.61,301.12 191.11,301.3 191.62,301.48 192.13,301.67 192.64,301.85 193.14,302.03 193.65,302.21 194.16,302.39 194.66,302.55 195.17,302.72 195.68,302.87 196.18,303.01 196.69,303.15 197.2,303.27 197.7,303.38 198.21,303.47 198.72,303.56 199.22,303.63 199.73,303.68 200.24,303.72 200.74,303.74 201.25,303.75 201.75,303.74 202.25,303.72 202.75,303.68 203.25,303.63 203.76,303.57 204.26,303.49 204.76,303.4 205.26,303.29 205.76,303.18 206.26,303.05 206.76,302.91 207.26,302.77 207.77,302.61 208.27,302.44 208.77,302.27 209.27,302.1 209.77,301.91 210.27,301.73 210.77,301.54 211.27,301.35 211.78,301.15 212.28,300.96 212.78,300.77 213.28,300.59 213.78,300.4 214.28,300.23 214.78,300.06 215.28,299.89 215.79,299.73 216.29,299.59 216.79,299.45 217.29,299.32 217.79,299.21 218.29,299.1 218.79,299.01 219.29,298.93 219.8,298.87 220.3,298.82 220.8,298.78 221.3,298.76 221.8,298.75 222.31,298.76 222.82,298.79 223.32,298.85 223.83,298.92 224.34,299.02 224.85,299.13 225.36,299.27 225.86,299.42 226.37,299.59 226.88,299.78 227.39,299.98 227.9,300.19 228.41,300.41 228.91,300.65 229.42,300.89 229.93,301.14 230.44,301.39 230.95,301.65 231.45,301.9 231.96,302.16 232.47,302.41 232.98,302.66 233.49,302.9 233.99,303.14 234.5,303.36 235.01,303.57 235.52,303.77 236.03,303.96 236.54,304.13 237.04,304.28 237.55,304.42 238.06,304.53 238.57,304.63 239.08,304.7 239.58,304.76 240.09,304.79 240.6,304.8 241.11,304.78 241.61,304.74 242.12,304.66 242.62,304.56 243.13,304.42 243.63,304.26 244.14,304.07 244.64,303.86 245.15,303.62 245.65,303.36 246.16,303.08 246.66,302.78 247.17,302.46 247.68,302.13 248.18,301.79 248.69,301.45 249.19,301.09 249.7,300.73 250.2,300.37 250.71,300.01 251.21,299.65 251.72,299.31 252.22,298.97 252.73,298.64 253.24,298.32 253.74,298.02 254.25,297.74 254.75,297.48 255.26,297.24 255.76,297.03 256.27,296.84 256.77,296.68 257.28,296.54 257.78,296.44 258.29,296.36 258.79,296.32 259.3,296.3 259.81,296.32 260.32,296.38 260.83,296.47 261.34,296.6 261.85,296.77 262.36,296.97 262.88,297.2 263.39,297.47 263.9,297.76 264.41,298.08 264.92,298.43 265.43,298.8 265.94,299.19 266.45,299.59 266.96,300.01 267.47,300.44 267.98,300.88 268.49,301.33 269.01,301.77 269.52,302.22 270.03,302.66 270.54,303.09 271.05,303.51 271.56,303.91 272.07,304.3 272.58,304.67 273.09,305.02 273.6,305.34 274.11,305.63 274.62,305.9 275.14,306.13 275.65,306.33 276.16,306.5 276.67,306.63 277.18,306.72 277.69,306.78 278.2,306.8 278.71,306.78 279.22,306.71 279.72,306.6 280.23,306.45 280.74,306.26 281.25,306.03 281.76,305.76 282.27,305.45 282.77,305.12 283.28,304.75 283.79,304.35 284.3,303.93 284.81,303.48 285.32,303.02 285.82,302.54 286.33,302.05 286.84,301.55 287.35,301.05 287.86,300.55 288.37,300.05 288.88,299.56 289.38,299.08 289.89,298.62 290.4,298.18 290.91,297.75 291.42,297.35 291.93,296.98 292.43,296.65 292.94,296.34 293.45,296.07 293.96,295.84 294.47,295.65 294.98,295.5 295.48,295.39 295.99,295.32 296.5,295.3 297,295.33 297.5,295.43 298,295.58 298.5,295.8 299,296.08 299.5,296.41 300,296.8 300.5,297.23 301,297.72 301.5,298.24 302,298.8 302.5,299.39 303,300.01 303.5,300.65 304,301.3 304.5,301.97 305,302.63 305.5,303.3 306,303.95 306.5,304.59 307,305.21 307.5,305.8 308,306.36 308.5,306.88 309,307.37 309.5,307.8 310,308.19 310.5,308.52 311,308.8 311.5,309.02 312,309.17 312.5,309.27 313,309.3 313.5,309.26 314,309.15 314.5,308.96 315,308.7 315.5,308.37 316,307.97 316.5,307.5 317,306.98 317.5,306.4 318,305.77 318.5,305.1 319,304.39 319.5,303.65 320,302.88 320.5,302.1 321,301.3 321.5,300.5 322,299.7 322.5,298.92 323,298.15 323.5,297.41 324,296.7 324.5,296.03 325,295.4 325.5,294.82 326,294.3 326.5,293.83 327,293.43 327.5,293.1 328,292.84 328.5,292.65 329,292.54 329.5,292.5 330,292.55 330.5,292.68 331,292.9 331.5,293.21 332,293.61 332.5,294.08 333,294.62 333.5,295.24 334,295.91 334.5,296.65 335,297.42 335.5,298.24 336,299.09 336.5,299.97 337,300.85 337.5,301.75 338,302.63 338.5,303.51 339,304.36 339.5,305.18 340,305.95 340.5,306.69 341,307.36 341.5,307.98 342,308.52 342.5,308.99 343,309.39 343.5,309.7 344,309.92 344.5,310.05 345,310.1 345.5,310.04 346.01,309.87 346.51,309.59 347.01,309.21 347.52,308.72 348.02,308.13 348.52,307.46 349.03,306.7 349.53,305.87 350.03,304.97 350.54,304.02 351.04,303.03 351.54,302.01 352.05,300.97 352.55,299.93 353.06,298.89 353.56,297.87 354.06,296.88 354.57,295.93 355.07,295.03 355.57,294.2 356.08,293.44 356.58,292.77 357.08,292.18 357.59,291.69 358.09,291.31 358.59,291.03 359.1,290.86 359.6,290.8 360.11,290.87 360.61,291.08 361.12,291.43 361.63,291.9 362.14,292.51 362.64,293.23 363.15,294.07 363.66,295 364.16,296.02 364.67,297.11 365.18,298.27 365.69,299.47 366.19,300.7 366.7,301.95 367.21,303.2 367.71,304.43 368.22,305.63 368.73,306.79 369.24,307.88 369.74,308.9 370.25,309.83 370.76,310.67 371.26,311.39 371.77,312 372.28,312.47 372.79,312.82 373.29,313.03 373.8,313.1 374.3,313 374.81,312.72 375.31,312.24 375.82,311.59 376.32,310.76 376.82,309.78 377.33,308.65 377.83,307.4 378.33,306.03 378.84,304.58 379.34,303.06 379.85,301.49 380.35,299.9 380.85,298.31 381.36,296.74 381.86,295.22 382.37,293.77 382.87,292.4 383.37,291.15 383.88,290.02 384.38,289.04 384.88,288.21 385.39,287.56 385.89,287.08 386.4,286.8 386.9,286.7 387.42,286.86 387.94,287.34 388.45,288.13 388.97,289.22 389.49,290.57 390.01,292.17 390.53,293.98 391.05,295.97 391.56,298.08 392.08,300.29 392.6,302.55 393.12,304.81 393.64,307.02 394.15,309.13 394.67,311.12 395.19,312.93 395.71,314.53 396.23,315.88 396.75,316.97 397.26,317.76 397.78,318.24 398.3,318.4 398.8,318.21 399.31,317.63 399.81,316.67 400.32,315.37 400.82,313.73 401.33,311.81 401.83,309.63 402.34,307.23 402.84,304.68 403.35,302.02 403.85,299.3 404.35,296.58 404.86,293.92 405.36,291.37 405.87,288.97 406.37,286.79 406.88,284.87 407.38,283.23 407.89,281.93 408.39,280.97 408.9,280.39 409.4,280.2 409.91,280.58 410.41,281.72 410.92,283.57 411.42,286.07 411.93,289.14 412.44,292.67 412.94,296.54 413.45,300.62 413.95,304.78 414.46,308.86 414.96,312.73 415.47,316.26 415.98,319.33 416.48,321.83 416.99,323.68 417.49,324.82 418,325.2 418.51,324.75 419.01,323.41 419.52,321.22 420.02,318.27 420.53,314.65 421.04,310.48 421.54,305.92 422.05,301.1 422.55,296.2 423.06,291.38 423.56,286.82 424.07,282.65 424.58,279.03 425.08,276.08 425.59,273.89 426.09,272.55 426.6,272.1 427.12,272.92 427.64,275.33 428.16,279.22 428.69,284.39 429.21,290.58 429.73,297.48 430.25,304.75 430.77,312.02 431.29,318.92 431.81,325.11 432.34,330.28 432.86,334.17 433.38,336.58 433.9,337.4 434.42,335.75 434.94,330.93 435.45,323.34 435.97,313.58 436.49,302.45 437.01,290.85 437.53,279.72 438.05,269.96 438.56,262.37 439.08,257.55 439.6,255.9 440.15,259.54 440.7,269.9 441.25,285.41 441.8,303.7 442.35,321.99 442.9,337.5 443.45,347.86 444,351.5 444.54,346.44 445.09,332.28 445.63,311.81 446.17,289.09 446.71,268.62 447.26,254.46 447.8,249.4 448.34,258.89 448.88,283.74 449.42,314.46 449.96,339.31 450.5,348.8 451.06,341.02 451.62,320.64 452.18,295.46 452.74,275.08 453.3,267.3 453.8,272.66 454.3,286.68 454.8,304.02 455.3,318.04 455.8,323.4 456.4,314.55 457,296.85 457.6,288 458.12,290.13 458.64,295.7 459.16,302.6 459.68,308.17 460.2,310.3 460.77,308.06 461.35,302.65 461.93,297.24 462.5,295 463.06,295.91 463.62,298.28 464.18,301.22 464.74,303.59 465.3,304.5 465.8,303.72 466.3,301.85 466.8,299.98 467.3,299.2 467.85,299.61 468.4,300.6 468.95,301.59 469.5,302 470,301.91 470.5,301.68 471,301.35 471.5,301.03 472,300.79 472.5,300.7 473,300.71 473.5,300.72 474,300.75 474.5,300.78 475,300.82 475.5,300.85 476,300.88 476.5,300.89 477,300.9 477.52,300.92 478.03,300.96 478.55,301.04 479.06,301.14 479.58,301.25 480.09,301.38 480.61,301.52 481.12,301.65 481.64,301.76 482.15,301.86 482.67,301.94 483.18,301.98 483.7,302 484.2,301.97 484.7,301.89 485.2,301.77 485.7,301.6 486.2,301.41 486.7,301.2 487.2,300.99 487.7,300.8 488.2,300.63 488.7,300.51 489.2,300.43 489.7,300.4 490.21,300.42 490.71,300.46 491.22,300.53 491.72,300.63 492.23,300.76 492.74,300.9 493.24,301.05 493.75,301.22 494.25,301.38 494.76,301.55 495.26,301.7 495.77,301.84 496.28,301.97 496.78,302.07 497.29,302.14 497.79,302.18 498.3,302.2 498.8,302.19 499.3,302.14 499.8,302.07 500.3,301.98 500.8,301.87 501.3,301.74 501.8,301.6 502.3,301.45 502.8,301.3 503.3,301.16 503.8,301.03 504.3,300.92 504.8,300.83 505.3,300.76 505.8,300.71 506.3,300.7 506.81,300.71 507.33,300.75 507.84,300.81 508.35,300.88 508.87,300.97 509.38,301.08 509.89,301.19 510.41,301.31 510.92,301.42 511.43,301.52 511.95,301.62 512.46,301.69 512.97,301.75 513.49,301.79 514,301.8 514.52,301.8 515.04,301.82 515.56,301.83 516.08,301.86 516.59,301.89 517.11,301.92 517.63,301.96 518.15,302 518.67,302.04 519.19,302.08 519.71,302.11 520.22,302.14 520.74,302.17 521.26,302.18 521.78,302.2 522.3,302.2 522.81,302.19 523.32,302.16 523.83,302.11 524.34,302.04 524.85,301.96 525.36,301.86 525.87,301.75 526.38,301.63 526.89,301.5 527.4,301.37 527.9,301.23 528.41,301.1 528.92,300.97 529.43,300.85 529.94,300.74 530.45,300.64 530.96,300.56 531.47,300.49 531.98,300.44 532.49,300.41 533,300.4 533.5,300.41 534,300.42 534.5,300.45 535,300.49 535.5,300.53 536,300.59 536.5,300.65 537,300.72 537.5,300.8 538,300.88 538.5,300.96 539,301.04 539.5,301.12 540,301.2 540.5,301.28 541,301.35 541.5,301.41 542,301.47 542.5,301.51 543,301.55 543.5,301.58 544,301.59 544.5,301.6" fill="none" stroke="#000080" stroke-width="1.25" stroke-dasharray="2.4,1.9" stroke-linejoin="round"/>
<polyline clip-path="url(#cl)" points="108,301.4 108.51,301.4 109.02,301.39 109.52,301.39 110.03,301.38 110.54,301.37 111.05,301.36 111.56,301.34 112.06,301.32 112.57,301.3 113.08,301.28 113.59,301.26 114.1,301.24 114.6,301.21 115.11,301.19 115.62,301.16 116.13,301.14 116.64,301.11 117.15,301.09 117.65,301.06 118.16,301.04 118.67,301.02 119.18,301 119.69,300.98 120.19,300.96 120.7,300.94 121.21,300.93 121.72,300.92 122.23,300.91 122.73,300.91 123.24,300.9 123.75,300.9 124.25,300.9 124.76,300.9 125.26,300.9 125.77,300.91 126.27,300.91 126.78,300.92 127.28,300.92 127.79,300.93 128.29,300.94 128.8,300.94 129.3,300.95 129.81,300.96 130.31,300.97 130.82,300.98 131.32,301 131.83,301.01 132.33,301.02 132.84,301.03 133.34,301.05 133.85,301.06 134.35,301.08 134.86,301.09 135.36,301.1 135.87,301.12 136.37,301.13 136.88,301.15 137.38,301.17 137.88,301.18 138.39,301.2 138.89,301.21 139.4,301.22 139.9,301.24 140.41,301.25 140.91,301.27 141.42,301.28 141.92,301.29 142.43,301.3 142.93,301.32 143.44,301.33 143.94,301.34 144.45,301.35 144.95,301.36 145.46,301.36 145.96,301.37 146.47,301.38 146.97,301.38 147.48,301.39 147.98,301.39 148.49,301.4 148.99,301.4 149.5,301.4 150,301.4 150.5,301.4 151,301.4 151.5,301.4 152,301.4 152.5,301.4 153,301.4 153.5,301.41 154,301.41 154.5,301.41 155,301.41 155.5,301.42 156,301.42 156.5,301.42 157,301.42 157.5,301.43 158,301.43 158.5,301.43 159,301.44 159.5,301.44 160,301.45 160.5,301.45 161,301.46 161.5,301.46 162,301.47 162.5,301.47 163,301.47 163.5,301.48 164,301.48 164.5,301.49 165,301.49 165.5,301.5 166,301.51 166.5,301.51 167,301.52 167.5,301.52 168,301.53 168.5,301.53 169,301.53 169.5,301.54 170,301.54 170.5,301.55 171,301.55 171.5,301.56 172,301.56 172.5,301.57 173,301.57 173.5,301.57 174,301.58 174.5,301.58 175,301.58 175.5,301.58 176,301.59 176.5,301.59 177,301.59 177.5,301.59 178,301.6 178.5,301.6 179,301.6 179.5,301.6 180,301.6 180.5,301.6 181,301.6 181.5,301.6 182,301.6 182.5,301.59 183,301.58 183.5,301.57 184,301.56 184.5,301.54 185,301.53 185.5,301.51 186,301.49 186.5,301.46 187,301.44 187.5,301.41 188,301.38 188.5,301.35 189,301.32 189.5,301.29 190,301.26 190.5,301.22 191,301.19 191.5,301.15 192,301.11 192.5,301.08 193,301.04 193.5,301 194,300.96 194.5,300.92 195,300.89 195.5,300.85 196,300.81 196.5,300.78 197,300.74 197.5,300.71 198,300.68 198.5,300.65 199,300.62 199.5,300.59 200,300.56 200.5,300.54 201,300.51 201.5,300.49 202,300.47 202.5,300.46 203,300.44 203.5,300.43 204,300.42 204.5,300.41 205,300.4 205.5,300.4 206,300.4 206.5,300.4 207,300.4 207.5,300.41 208,300.42 208.5,300.43 209,300.44 209.5,300.46 210,300.48 210.5,300.5 211,300.52 211.5,300.54 212,300.56 212.5,300.59 213,300.62 213.5,300.65 214,300.68 214.5,300.71 215,300.74 215.5,300.77 216,300.8 216.5,300.83 217,300.86 217.5,300.89 218,300.92 218.5,300.95 219,300.98 219.5,301.01 220,301.04 220.5,301.06 221,301.08 221.5,301.1 222,301.12 222.5,301.14 223,301.16 223.5,301.17 224,301.18 224.5,301.19 225,301.2 225.5,301.2 226,301.2 226.5,301.2 227.01,301.2 227.51,301.19 228.02,301.18 228.52,301.17 229.03,301.16 229.53,301.15 230.03,301.13 230.54,301.11 231.04,301.09 231.55,301.07 232.05,301.05 232.55,301.02 233.06,300.99 233.56,300.97 234.07,300.94 234.57,300.9 235.07,300.87 235.58,300.84 236.08,300.8 236.59,300.76 237.09,300.73 237.6,300.69 238.1,300.65 238.6,300.61 239.11,300.57 239.61,300.53 240.12,300.48 240.62,300.44 241.12,300.4 241.63,300.36 242.13,300.32 242.64,300.27 243.14,300.23 243.65,300.19 244.15,300.15 244.65,300.11 245.16,300.07 245.66,300.04 246.17,300 246.67,299.96 247.18,299.93 247.68,299.9 248.18,299.86 248.69,299.83 249.19,299.81 249.7,299.78 250.2,299.75 250.7,299.73 251.21,299.71 251.71,299.69 252.22,299.67 252.72,299.65 253.22,299.64 253.73,299.63 254.23,299.62 254.74,299.61 255.24,299.6 255.75,299.6 256.25,299.6 256.76,299.6 257.26,299.62 257.77,299.64 258.28,299.68 258.78,299.72 259.29,299.77 259.8,299.83 260.3,299.89 260.81,299.97 261.32,300.05 261.82,300.14 262.33,300.23 262.84,300.33 263.34,300.43 263.85,300.54 264.36,300.65 264.86,300.76 265.37,300.87 265.88,300.98 266.39,301.09 266.89,301.2 267.4,301.31 267.91,301.42 268.41,301.52 268.92,301.62 269.43,301.71 269.93,301.8 270.44,301.88 270.95,301.96 271.45,302.02 271.96,302.08 272.47,302.13 272.97,302.17 273.48,302.21 273.99,302.23 274.49,302.25 275,302.25 275.51,302.25 276.01,302.24 276.52,302.22 277.02,302.21 277.53,302.18 278.03,302.15 278.54,302.12 279.04,302.08 279.55,302.03 280.05,301.98 280.56,301.93 281.06,301.87 281.57,301.81 282.07,301.74 282.58,301.67 283.09,301.6 283.59,301.53 284.1,301.45 284.6,301.37 285.11,301.29 285.61,301.21 286.12,301.13 286.62,301.04 287.13,300.96 287.63,300.87 288.14,300.79 288.64,300.71 289.15,300.63 289.65,300.55 290.16,300.47 290.66,300.4 291.17,300.33 291.68,300.26 292.18,300.19 292.69,300.13 293.19,300.07 293.7,300.02 294.2,299.97 294.71,299.92 295.21,299.88 295.72,299.85 296.22,299.82 296.73,299.79 297.23,299.78 297.74,299.76 298.24,299.75 298.75,299.75 299.26,299.77 299.77,299.81 300.28,299.89 300.79,300 301.29,300.13 301.8,300.29 302.31,300.47 302.82,300.68 303.33,300.91 303.84,301.15 304.35,301.41 304.86,301.67 305.37,301.95 305.88,302.23 306.38,302.5 306.89,302.78 307.4,303.04 307.91,303.3 308.42,303.54 308.93,303.77 309.44,303.98 309.95,304.16 310.46,304.32 310.96,304.45 311.47,304.56 311.98,304.64 312.49,304.68 313,304.7 313.5,304.68 314,304.63 314.5,304.54 315,304.42 315.5,304.27 316,304.08 316.5,303.87 317,303.63 317.5,303.36 318,303.06 318.5,302.75 319,302.41 319.5,302.06 320,301.69 320.5,301.32 321,300.93 321.5,300.55 322,300.15 322.5,299.77 323,299.38 323.5,299.01 324,298.64 324.5,298.29 325,297.95 325.5,297.64 326,297.34 326.5,297.07 327,296.83 327.5,296.62 328,296.43 328.5,296.28 329,296.16 329.5,296.07 330,296.02 330.5,296 331.01,296.03 331.52,296.11 332.04,296.25 332.55,296.44 333.06,296.68 333.57,296.97 334.09,297.31 334.6,297.68 335.11,298.1 335.62,298.56 336.14,299.04 336.65,299.55 337.16,300.08 337.68,300.63 338.19,301.19 338.7,301.75 339.21,302.31 339.72,302.87 340.24,303.42 340.75,303.95 341.26,304.46 341.77,304.94 342.29,305.4 342.8,305.82 343.31,306.19 343.82,306.53 344.34,306.82 344.85,307.06 345.36,307.25 345.88,307.39 346.39,307.47 346.9,307.5 347.4,307.45 347.91,307.28 348.41,307.01 348.92,306.64 349.42,306.17 349.92,305.61 350.43,304.97 350.93,304.26 351.43,303.49 351.94,302.66 352.44,301.79 352.95,300.9 353.45,300 353.95,299.1 354.46,298.21 354.96,297.34 355.47,296.51 355.97,295.74 356.47,295.03 356.98,294.39 357.48,293.83 357.98,293.36 358.49,292.99 358.99,292.72 359.5,292.55 360,292.5 360.51,292.56 361.03,292.74 361.54,293.04 362.06,293.46 362.57,293.99 363.09,294.62 363.6,295.34 364.11,296.15 364.63,297.04 365.14,297.99 365.66,299 366.17,300.04 366.69,301.11 367.2,302.2 367.71,303.29 368.23,304.36 368.74,305.4 369.26,306.41 369.77,307.36 370.29,308.25 370.8,309.06 371.31,309.78 371.83,310.41 372.34,310.94 372.86,311.36 373.37,311.66 373.89,311.84 374.4,311.9 374.9,311.81 375.41,311.55 375.91,311.13 376.42,310.54 376.92,309.79 377.42,308.91 377.93,307.89 378.43,306.76 378.93,305.53 379.44,304.22 379.94,302.85 380.45,301.43 380.95,300 381.45,298.57 381.96,297.15 382.46,295.78 382.97,294.47 383.47,293.24 383.97,292.11 384.48,291.09 384.98,290.21 385.48,289.46 385.99,288.87 386.49,288.45 387,288.19 387.5,288.1 388,288.25 388.51,288.71 389.01,289.46 389.52,290.49 390.02,291.78 390.53,293.29 391.03,295.01 391.54,296.9 392.04,298.91 392.55,301.01 393.05,303.15 393.55,305.29 394.06,307.39 394.56,309.4 395.07,311.29 395.57,313.01 396.08,314.52 396.58,315.81 397.09,316.84 397.59,317.59 398.1,318.05 398.6,318.2 399.11,317.98 399.63,317.34 400.14,316.28 400.66,314.84 401.17,313.03 401.69,310.91 402.2,308.53 402.71,305.92 403.23,303.16 403.74,300.3 404.26,297.4 404.77,294.54 405.29,291.78 405.8,289.18 406.31,286.79 406.83,284.67 407.34,282.86 407.86,281.42 408.37,280.36 408.89,279.72 409.4,279.5 409.91,279.89 410.41,281.04 410.92,282.92 411.42,285.46 411.93,288.58 412.44,292.16 412.94,296.1 413.45,300.24 413.95,304.46 414.46,308.6 414.96,312.54 415.47,316.12 415.98,319.24 416.48,321.78 416.99,323.66 417.49,324.81 418,325.2 418.51,324.75 419.01,323.41 419.52,321.22 420.02,318.27 420.53,314.65 421.04,310.48 421.54,305.92 422.05,301.1 422.55,296.2 423.06,291.38 423.56,286.82 424.07,282.65 424.58,279.03 425.08,276.08 425.59,273.89 426.09,272.55 426.6,272.1 427.12,272.92 427.64,275.33 428.16,279.22 428.69,284.39 429.21,290.58 429.73,297.48 430.25,304.75 430.77,312.02 431.29,318.92 431.81,325.11 432.34,330.28 432.86,334.17 433.38,336.58 433.9,337.4 434.42,335.75 434.94,330.93 435.45,323.34 435.97,313.58 436.49,302.45 437.01,290.85 437.53,279.72 438.05,269.96 438.56,262.37 439.08,257.55 439.6,255.9 440.15,259.5 440.7,269.74 441.25,285.07 441.8,303.15 442.35,321.23 442.9,336.56 443.45,346.8 444,350.4 444.54,345.4 445.09,331.39 445.63,311.14 446.17,288.66 446.71,268.41 447.26,254.4 447.8,249.4 448.34,258.89 448.88,283.74 449.42,314.46 449.96,339.31 450.5,348.8 451.06,341.02 451.62,320.64 452.18,295.46 452.74,275.08 453.3,267.3 453.8,272.66 454.3,286.68 454.8,304.02 455.3,318.04 455.8,323.4 456.4,314.55 457,296.85 457.6,288 458.12,290.13 458.64,295.7 459.16,302.6 459.68,308.17 460.2,310.3 460.77,308.06 461.35,302.65 461.93,297.24 462.5,295 463.06,295.91 463.62,298.28 464.18,301.22 464.74,303.59 465.3,304.5 465.8,303.72 466.3,301.85 466.8,299.98 467.3,299.2 467.85,299.61 468.4,300.6 468.95,301.59 469.5,302 470,301.91 470.5,301.68 471,301.35 471.5,301.03 472,300.79 472.5,300.7 473,300.71 473.5,300.72 474,300.75 474.5,300.78 475,300.82 475.5,300.85 476,300.88 476.5,300.89 477,300.9 477.52,300.92 478.03,300.96 478.55,301.04 479.06,301.14 479.58,301.25 480.09,301.38 480.61,301.52 481.12,301.65 481.64,301.76 482.15,301.86 482.67,301.94 483.18,301.98 483.7,302 484.2,301.97 484.7,301.89 485.2,301.77 485.7,301.6 486.2,301.41 486.7,301.2 487.2,300.99 487.7,300.8 488.2,300.63 488.7,300.51 489.2,300.43 489.7,300.4 490.21,300.42 490.71,300.46 491.22,300.53 491.72,300.63 492.23,300.76 492.74,300.9 493.24,301.05 493.75,301.22 494.25,301.38 494.76,301.55 495.26,301.7 495.77,301.84 496.28,301.97 496.78,302.07 497.29,302.14 497.79,302.18 498.3,302.2 498.8,302.19 499.3,302.14 499.8,302.07 500.3,301.98 500.8,301.87 501.3,301.74 501.8,301.6 502.3,301.45 502.8,301.3 503.3,301.16 503.8,301.03 504.3,300.92 504.8,300.83 505.3,300.76 505.8,300.71 506.3,300.7 506.81,300.71 507.33,300.75 507.84,300.81 508.35,300.88 508.87,300.97 509.38,301.08 509.89,301.19 510.41,301.31 510.92,301.42 511.43,301.52 511.95,301.62 512.46,301.69 512.97,301.75 513.49,301.79 514,301.8 514.52,301.8 515.04,301.82 515.56,301.83 516.08,301.86 516.59,301.89 517.11,301.92 517.63,301.96 518.15,302 518.67,302.04 519.19,302.08 519.71,302.11 520.22,302.14 520.74,302.17 521.26,302.18 521.78,302.2 522.3,302.2 522.81,302.19 523.32,302.16 523.83,302.11 524.34,302.04 524.85,301.96 525.36,301.86 525.87,301.75 526.38,301.63 526.89,301.5 527.4,301.37 527.9,301.23 528.41,301.1 528.92,300.97 529.43,300.85 529.94,300.74 530.45,300.64 530.96,300.56 531.47,300.49 531.98,300.44 532.49,300.41 533,300.4 533.5,300.41 534,300.42 534.5,300.45 535,300.49 535.5,300.53 536,300.59 536.5,300.65 537,300.72 537.5,300.8 538,300.88 538.5,300.96 539,301.04 539.5,301.12 540,301.2 540.5,301.28 541,301.35 541.5,301.41 542,301.47 542.5,301.51 543,301.55 543.5,301.58 544,301.59 544.5,301.6" fill="none" stroke="#8f22ff" stroke-width="1.3" stroke-linejoin="round" stroke-opacity="0.62"/>
<rect x="108.0" y="15.5" width="436.5" height="191.5" fill="none" stroke="#c4c4c4" stroke-width="1.2"/>
<rect x="108.0" y="239.0" width="436.5" height="128.0" fill="none" stroke="#c4c4c4" stroke-width="1.2"/>
<path d="M173.37,207L173.37,204.5 M219.74,207L219.74,204.5 M255.72,207L255.72,204.5 M285.11,207L285.11,204.5 M309.96,207L309.96,204.5 M331.48,207L331.48,204.5 M350.47,207L350.47,204.5 M367.46,207L367.46,204.5 M479.2,207L479.2,204.5 M544.57,207L544.57,204.5 M108,202.44L110.5,202.44 M108,195.83L110.5,195.83 M108,190.43L110.5,190.43 M108,185.86L110.5,185.86 M108,181.91L110.5,181.91 M108,178.42L110.5,178.42 M108,175.3L112.5,175.3 M108,154.77L110.5,154.77 M108,142.76L110.5,142.76 M108,134.24L110.5,134.24 M108,127.63L110.5,127.63 M108,122.23L110.5,122.23 M108,117.66L110.5,117.66 M108,113.71L110.5,113.71 M108,110.22L110.5,110.22 M108,107.1L112.5,107.1 M108,86.57L110.5,86.57 M108,74.56L110.5,74.56 M108,66.04L110.5,66.04 M108,59.43L110.5,59.43 M108,54.03L110.5,54.03 M108,49.46L110.5,49.46 M108,45.51L110.5,45.51 M108,42.02L110.5,42.02 M108,38.9L112.5,38.9 M108,18.37L110.5,18.37 M108,367L108,362.5 M125.44,367L125.44,364.5 M142.88,367L142.88,364.5 M160.32,367L160.32,364.5 M177.76,367L177.76,364.5 M195.2,367L195.2,362.5 M212.64,367L212.64,364.5 M230.08,367L230.08,364.5 M247.52,367L247.52,364.5 M264.96,367L264.96,364.5 M282.4,367L282.4,362.5 M299.84,367L299.84,364.5 M317.28,367L317.28,364.5 M334.72,367L334.72,364.5 M352.16,367L352.16,364.5 M369.6,367L369.6,362.5 M387.04,367L387.04,364.5 M404.48,367L404.48,364.5 M421.92,367L421.92,364.5 M439.36,367L439.36,364.5 M456.8,367L456.8,362.5 M474.24,367L474.24,364.5 M491.68,367L491.68,364.5 M509.12,367L509.12,364.5 M526.56,367L526.56,364.5 M108,363.28L112.5,363.28 M108,347.81L110.5,347.81 M108,332.34L110.5,332.34 M108,316.87L110.5,316.87 M108,301.4L112.5,301.4 M108,285.93L110.5,285.93 M108,270.46L110.5,270.46 M108,254.99L110.5,254.99 M108,239.52L112.5,239.52" stroke="#111" stroke-width="1" fill="none"/>
<text x="75.4" y="43.7" font-size="14.4" text-anchor="start" style="font-family:'Liberation Serif',serif" >10</text>
<rect x="90" y="35.6" width="5.7" height="0.85" fill="#000"/>
<text x="96.3" y="38.6" font-size="9.8" text-anchor="start" style="font-family:'Liberation Serif',serif" >22</text>
<text x="75.4" y="111.9" font-size="14.4" text-anchor="start" style="font-family:'Liberation Serif',serif" >10</text>
<rect x="90" y="103.8" width="5.7" height="0.85" fill="#000"/>
<text x="96.3" y="106.8" font-size="9.8" text-anchor="start" style="font-family:'Liberation Serif',serif" >23</text>
<text x="75.4" y="180.1" font-size="14.4" text-anchor="start" style="font-family:'Liberation Serif',serif" >10</text>
<rect x="90" y="172" width="5.7" height="0.85" fill="#000"/>
<text x="96.3" y="175" font-size="9.8" text-anchor="start" style="font-family:'Liberation Serif',serif" >24</text>
<text x="256.22" y="219.3" font-size="14.4" text-anchor="middle" style="font-family:'Liberation Serif',serif" >50</text>
<text x="368.26" y="219.3" font-size="14.4" text-anchor="middle" style="font-family:'Liberation Serif',serif" >100</text>
<text x="310.3" y="234.7" font-size="14.4" text-anchor="start" style="font-family:'Liberation Serif',serif" ><tspan font-style="italic" font-size="15.5">f</tspan><tspan dx="3.2">[Hz]</tspan></text>
<text transform="translate(68.8,149.8) rotate(-90)" font-size="14.4" text-anchor="start" style="font-family:'Liberation Serif',serif">ASD<tspan dx="3.3">[Hz</tspan><tspan font-size="10.2" dy="-5.5">&#8722;1/2</tspan><tspan dy="5.5">]</tspan></text>
<text x="106.5" y="244.8" font-size="14.4" text-anchor="end" style="font-family:'Liberation Serif',serif" >20</text>
<text x="106.5" y="306.3" font-size="14.4" text-anchor="end" style="font-family:'Liberation Serif',serif" >0</text>
<text x="106.5" y="368.2" font-size="14.4" text-anchor="end" style="font-family:'Liberation Serif',serif" >&#8722;20</text>
<text x="109.2" y="379.8" font-size="14.4" text-anchor="middle" style="font-family:'Liberation Serif',serif" >&#8722;0.4</text>
<text x="196.4" y="379.8" font-size="14.4" text-anchor="middle" style="font-family:'Liberation Serif',serif" >&#8722;0.3</text>
<text x="283.6" y="379.8" font-size="14.4" text-anchor="middle" style="font-family:'Liberation Serif',serif" >&#8722;0.2</text>
<text x="370.8" y="379.8" font-size="14.4" text-anchor="middle" style="font-family:'Liberation Serif',serif" >&#8722;0.1</text>
<text x="458" y="379.8" font-size="14.4" text-anchor="middle" style="font-family:'Liberation Serif',serif" >0.0</text>
<text x="292" y="394.7" font-size="14.4" text-anchor="start" style="font-family:'Liberation Serif',serif" ><tspan font-style="italic">t</tspan><tspan dx="2.5">&#8722;</tspan><tspan dx="2.5" font-style="italic">t</tspan><tspan font-size="10.2" dy="2.5">merger</tspan><tspan dy="-2.5" dx="2.5">[s]</tspan></text>
<text transform="translate(75.8,303) rotate(-90)" font-size="14.4" text-anchor="middle" style="font-family:'Liberation Serif',serif">Whitened Strain</text>
<path d="M243.9,10.6 C244.6,12.9 246.4,12.8 247.4,10.6 L250.6,3.0" fill="none" stroke="#000" stroke-width="1.0" stroke-linecap="round" stroke-linejoin="round"/>
<path d="M250.6,3.0 L254.6,11.6" fill="none" stroke="#000" stroke-width="1.9" stroke-linecap="round"/>
<path d="M254.6,11.6 L259.7,2.7" fill="none" stroke="#000" stroke-width="0.9" stroke-linecap="round"/>
<path d="M259.7,2.7 L258.9,11.2 C258.8,12.3 259.6,12.6 260.7,12.1" fill="none" stroke="#000" stroke-width="1.6" stroke-linecap="round" stroke-linejoin="round"/>
<text x="260.5" y="13.9" font-size="10.4" text-anchor="start" style="font-family:'Liberation Serif',serif" >det</text>
<rect x="276.3" y="6.6" width="8.7" height="0.85" fill="#000"/><rect x="276.3" y="9.6" width="8.7" height="0.85" fill="#000"/>
<text x="287.5" y="12" font-size="14.4" text-anchor="start" style="font-family:'Liberation Serif',serif" textLength="32.6" lengthAdjust="spacingAndGlyphs">43.53</text>
<text x="322.8" y="12" font-size="14.4" text-anchor="start" style="font-family:'Liberation Serif',serif" font-style="italic">M</text>
<circle cx="340.3" cy="10.8" r="3.4" fill="none" stroke="#000" stroke-width="0.9"/><circle cx="340.3" cy="10.8" r="0.9" fill="#000"/>
<text x="352.4" y="12" font-size="14.4" text-anchor="start" style="font-family:'Liberation Serif',serif" font-style="italic">e</text>
<text x="359.3" y="14" font-size="9.8" text-anchor="start" style="font-family:'Liberation Serif',serif" >5<tspan dx="1.5">Hz</tspan></text>
<rect x="380.2" y="6.6" width="8.7" height="0.85" fill="#000"/><rect x="380.2" y="9.6" width="8.7" height="0.85" fill="#000"/>
<text x="391" y="12" font-size="14.4" text-anchor="start" style="font-family:'Liberation Serif',serif" >0.5</text>
<rect x="113.4" y="20.5" width="165.6" height="30" fill="#fff" fill-opacity="0.85" stroke="#cfcfcf" stroke-width="1"/>
<rect x="118.6" y="26.2" width="6.8" height="2.8" fill="#ff2a00"/>
<rect x="118.6" y="40.2" width="6.8" height="2.8" fill="#ffa08c"/>
<rect x="175" y="26.2" width="6.9" height="2.8" fill="#6d716d"/>
<rect x="173.9" y="38.2" width="9.8" height="6.8" fill="#dcdcdc" stroke="#c8c8c8" stroke-width="0.6"/>
<text x="134.7" y="31" font-size="9.8" text-anchor="start" style="font-family:'Liberation Serif',serif" >Data</text>
<text x="134.7" y="45" font-size="9.8" text-anchor="start" style="font-family:'Liberation Serif',serif" >ASD</text>
<text x="191.8" y="31" font-size="9.8" text-anchor="start" style="font-family:'Liberation Serif',serif" >Mean reconstructed</text>
<text x="191.8" y="45" font-size="9.8" text-anchor="start" style="font-family:'Liberation Serif',serif" >90% credible interval</text>
<rect x="296.4" y="20.4" width="243" height="16.2" fill="#fff" fill-opacity="0.85" stroke="#cfcfcf" stroke-width="1"/>
<rect x="302" y="26.1" width="7" height="2.9" fill="#ffe800"/>
<rect x="376" y="26.1" width="4.4" height="2.9" fill="#000080"/>
<rect x="461" y="26.1" width="4.2" height="2.9" fill="#7f00ff"/>
<text x="318" y="31.3" font-size="9.8" text-anchor="start" style="font-family:'Liberation Serif',serif" >zero spin</text>
<text x="390.7" y="31.3" font-size="9.8" text-anchor="start" style="font-family:'Liberation Serif',serif" >aligned spin</text>
<text x="475.5" y="31.3" font-size="9.8" text-anchor="start" style="font-family:'Liberation Serif',serif" >precessing spin</text>
<rect x="0" y="0" width="52" height="400" fill="#000"/>
<rect x="546.8" y="0" width="53.2" height="400" fill="#000"/></svg>
</body></html>
